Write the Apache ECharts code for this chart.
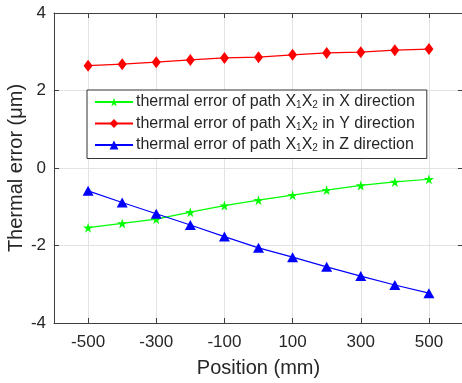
<!DOCTYPE html>
<html>
<head>
<meta charset="utf-8">
<script src="https://cdn.jsdelivr.net/npm/echarts@6/dist/echarts.min.js"></script>
<style>
  html, body { margin: 0; padding: 0; background: #fff; }
  #chart { width: 462px; height: 383px; }
</style>
</head>
<body>
<div id="chart"></div>
<script>
// positions along the path (mm)
var positions = [-500, -400, -300, -200, -100, 0, 100, 200, 300, 400, 500]
var xTickValues = [-500, -300, -100, 100, 300, 500]
var yTickValues = [-4, -2, 0, 2, 4]

// thermal error (um)
var errX = [-1.54, -1.43, -1.32, -1.14, -0.97, -0.83, -0.70, -0.57, -0.45, -0.36, -0.29]
var errY = [2.64, 2.68, 2.73, 2.79, 2.84, 2.86, 2.92, 2.97, 2.99, 3.04, 3.07]
var errZ = [-0.59, -0.89, -1.18, -1.47, -1.77, -2.06, -2.30, -2.55, -2.79, -3.02, -3.23]

var seriesNames = ['path X', 'path Y', 'path Z']

var starPath = 'path://M50,0 L61,35 L98,35 L68,57 L79,91 L50,70 L21,91 L32,57 L2,35 L39,35 Z'
var font = '"Liberation Sans", Arial, sans-serif'
var textColor = '#262626'
var axisColor = '#404040'

function pairs(vals) {
	return positions.map(function (p, i) { return [p, vals[i]] })
}

var chart = echarts.init(document.getElementById('chart'))

var xAxisBase = {
	type: 'value',
	min: -600,
	max: 600,
	axisLine: { show: true, onZero: false, lineStyle: { color: axisColor, width: 1 } },
	axisTick: { show: true, inside: true, length: 5, customValues: xTickValues, lineStyle: { color: axisColor } },
	splitLine: { show: true, lineStyle: { color: '#e3e3e3', width: 1 } }
}

var yAxisBase = {
	type: 'value',
	min: -4,
	max: 4,
	interval: 2,
	axisLine: { show: true, onZero: false, lineStyle: { color: axisColor } },
	axisTick: { show: true, inside: true, length: 5, customValues: yTickValues, lineStyle: { color: axisColor } }
}

chart.setOption({
	animation: false,
	backgroundColor: '#fff',
	grid: { left: 54, top: 13, width: 409, height: 310, containLabel: false, outerBoundsMode: 'none' },
	xAxis: [
		Object.assign({}, xAxisBase, {
			position: 'bottom',
			name: 'Position (mm)',
			nameLocation: 'middle',
			nameGap: 35,
			nameMoveOverlap: false,
			nameTextStyle: { color: textColor, fontSize: 20, fontFamily: font },
			axisLabel: {
				customValues: xTickValues,
				color: textColor,
				fontSize: 17,
				fontFamily: font,
				margin: 11
			}
		}),
		Object.assign({}, xAxisBase, {
			position: 'top',
			axisLabel: { show: false },
			splitLine: { show: false }
		})
	],
	yAxis: [
		Object.assign({}, yAxisBase, {
			position: 'left',
			name: 'Thermal error (μm)',
			nameLocation: 'middle',
			nameGap: 28,
			nameMoveOverlap: false,
			nameTextStyle: { color: textColor, fontSize: 20, fontFamily: font },
			axisLabel: { color: textColor, fontSize: 17, fontFamily: font, margin: 8 },
			splitLine: { show: true, lineStyle: { color: '#e3e3e3' } }
		}),
		Object.assign({}, yAxisBase, {
			position: 'right',
			axisLabel: { show: false },
			splitLine: { show: false }
		})
	],
	legend: {
		orient: 'vertical',
		left: 87,
		top: 90,
		padding: [4, 12, 5, 7],
		itemGap: 5,
		itemWidth: 38,
		itemHeight: 11,
		backgroundColor: '#fff',
		borderColor: '#333',
		borderWidth: 1,
		data: seriesNames,
		formatter: function (name) {
			var dir = name.slice(-1)
			return 'thermal error of path X{s|1}X{s|2} in ' + dir + ' direction'
		},
		textStyle: {
			color: textColor,
			fontSize: 16,
			fontFamily: font,
			padding: [0, 0, 0, -2],
			rich: {
				s: { fontSize: 10, fontFamily: font, color: textColor, padding: [7, 0, 0, 0] }
			}
		}
	},
	series: [
		{
			name: seriesNames[0],
			type: 'line',
			data: pairs(errX),
			symbol: starPath,
			symbolSize: 10,
			itemStyle: { color: '#00ff00' },
			lineStyle: { color: '#00ff00', width: 1.2 }
		},
		{
			name: seriesNames[1],
			type: 'line',
			data: pairs(errY),
			symbol: 'diamond',
			symbolSize: [9, 12],
			itemStyle: { color: '#ff0000' },
			lineStyle: { color: '#ff0000', width: 1.2 }
		},
		{
			name: seriesNames[2],
			type: 'line',
			data: pairs(errZ),
			symbol: 'triangle',
			symbolSize: [11, 10],
			itemStyle: { color: '#0000ff' },
			lineStyle: { color: '#0000ff', width: 1.2 }
		}
	]
})
</script>
</body>
</html>
